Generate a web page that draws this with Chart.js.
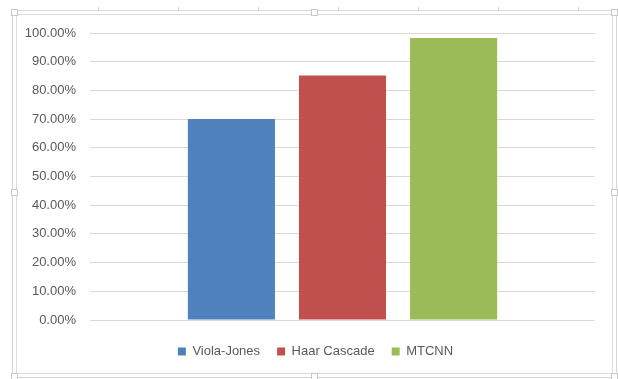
<!DOCTYPE html>
<html>
<head>
<meta charset="utf-8">
<script src="https://cdn.jsdelivr.net/npm/chart.js@4/dist/chart.umd.min.js"></script>
<style>
  html, body { margin: 0; padding: 0; background: #fff; }
  canvas { display: block; }
</style>
</head>
<body>
<canvas id="chart" width="618" height="379"></canvas>
<script>
// data
const categories = [''];
const seriesNames = ['Viola-Jones', 'Haar Cascade', 'MTCNN'];
const violaJones = [70.0];
const haarCascade = [85.2];
const mtcnn = [98.3];
const yTicks = [0, 10, 20, 30, 40, 50, 60, 70, 80, 90, 100];

const COLORS = ['#4F81BD', '#C0504D', '#9BBB59'];
const TEXT = '#595959';
const GRID = '#d9d9d9';

// excel style chart frame with the selection handles
const framePlugin = {
    id: 'frame',
    afterLayout(chart) {
        // legend in excel is centred on the whole chart, not the plot
        if (chart.legend) chart.legend.left = 36;
    },
    afterDraw(chart) {
        const ctx = chart.ctx;
        ctx.save();
        ctx.lineWidth = 1;
        ctx.strokeStyle = '#d6d6d6';
        ctx.strokeRect(12.5, 10.5, 604, 367);
        ctx.strokeStyle = '#dcdcdc';
        ctx.strokeRect(16.5, 14.5, 596, 359);

        // little ruler marks on the top edge
        ctx.strokeStyle = '#d6d6d6';
        [98, 178, 258, 338, 418, 498, 578].forEach(x => {
            ctx.beginPath();
            ctx.moveTo(x + 0.5, 7);
            ctx.lineTo(x + 0.5, 10);
            ctx.stroke();
        });

        const handles = [
            [14, 12], [314, 12], [614, 12],
            [14, 192], [614, 192],
            [14, 376], [314, 376], [614, 376]
        ];
        ctx.fillStyle = '#fff';
        ctx.strokeStyle = '#c8c8c8';
        handles.forEach(([x, y]) => {
            ctx.fillRect(x - 3, y - 3, 7, 7);
            ctx.strokeRect(x - 3 + 0.5, y - 3 + 0.5, 6, 6);
        });
        ctx.restore();
    }
};

const seriesData = [violaJones, haarCascade, mtcnn];

new Chart(document.getElementById('chart'), {
    type: 'bar',
    data: {
        labels: categories,
        datasets: seriesNames.map((name, i) => ({
            label: name,
            data: seriesData[i],
            backgroundColor: COLORS[i],
            borderWidth: 0,
            categoryPercentage: 0.66,
            barPercentage: 0.784
        }))
    },
    options: {
        responsive: false,
        animation: false,
        devicePixelRatio: 1,
        layout: {
            padding: { top: 33, right: 23, bottom: 11, left: 0 }
        },
        font: { family: '"Liberation Sans", Arial, sans-serif', size: 13 },
        plugins: {
            legend: {
                position: 'bottom',
                labels: {
                    boxWidth: 8,
                    boxHeight: 8,
                    padding: 17,
                    color: TEXT,
                    font: { family: '"Liberation Sans", Arial, sans-serif', size: 13 }
                }
            },
            tooltip: { enabled: false }
        },
        scales: {
            x: {
                grid: { display: false },
                border: { display: false },
                ticks: { display: false },
                afterFit(scale) { scale.height = 8; }
            },
            y: {
                min: 0,
                max: 100,
                afterBuildTicks(scale) {
                    scale.ticks = yTicks.map(v => ({ value: v }));
                },
                afterFit(scale) { scale.width = 90; },
                grid: { color: GRID, drawTicks: false },
                border: { display: false },
                ticks: {
                    padding: 14,
                    color: TEXT,
                    font: { family: '"Liberation Sans", Arial, sans-serif', size: 13 },
                    callback: v => v.toFixed(2) + '%'
                }
            }
        }
    },
    plugins: [framePlugin]
});
</script>
</body>
</html>
